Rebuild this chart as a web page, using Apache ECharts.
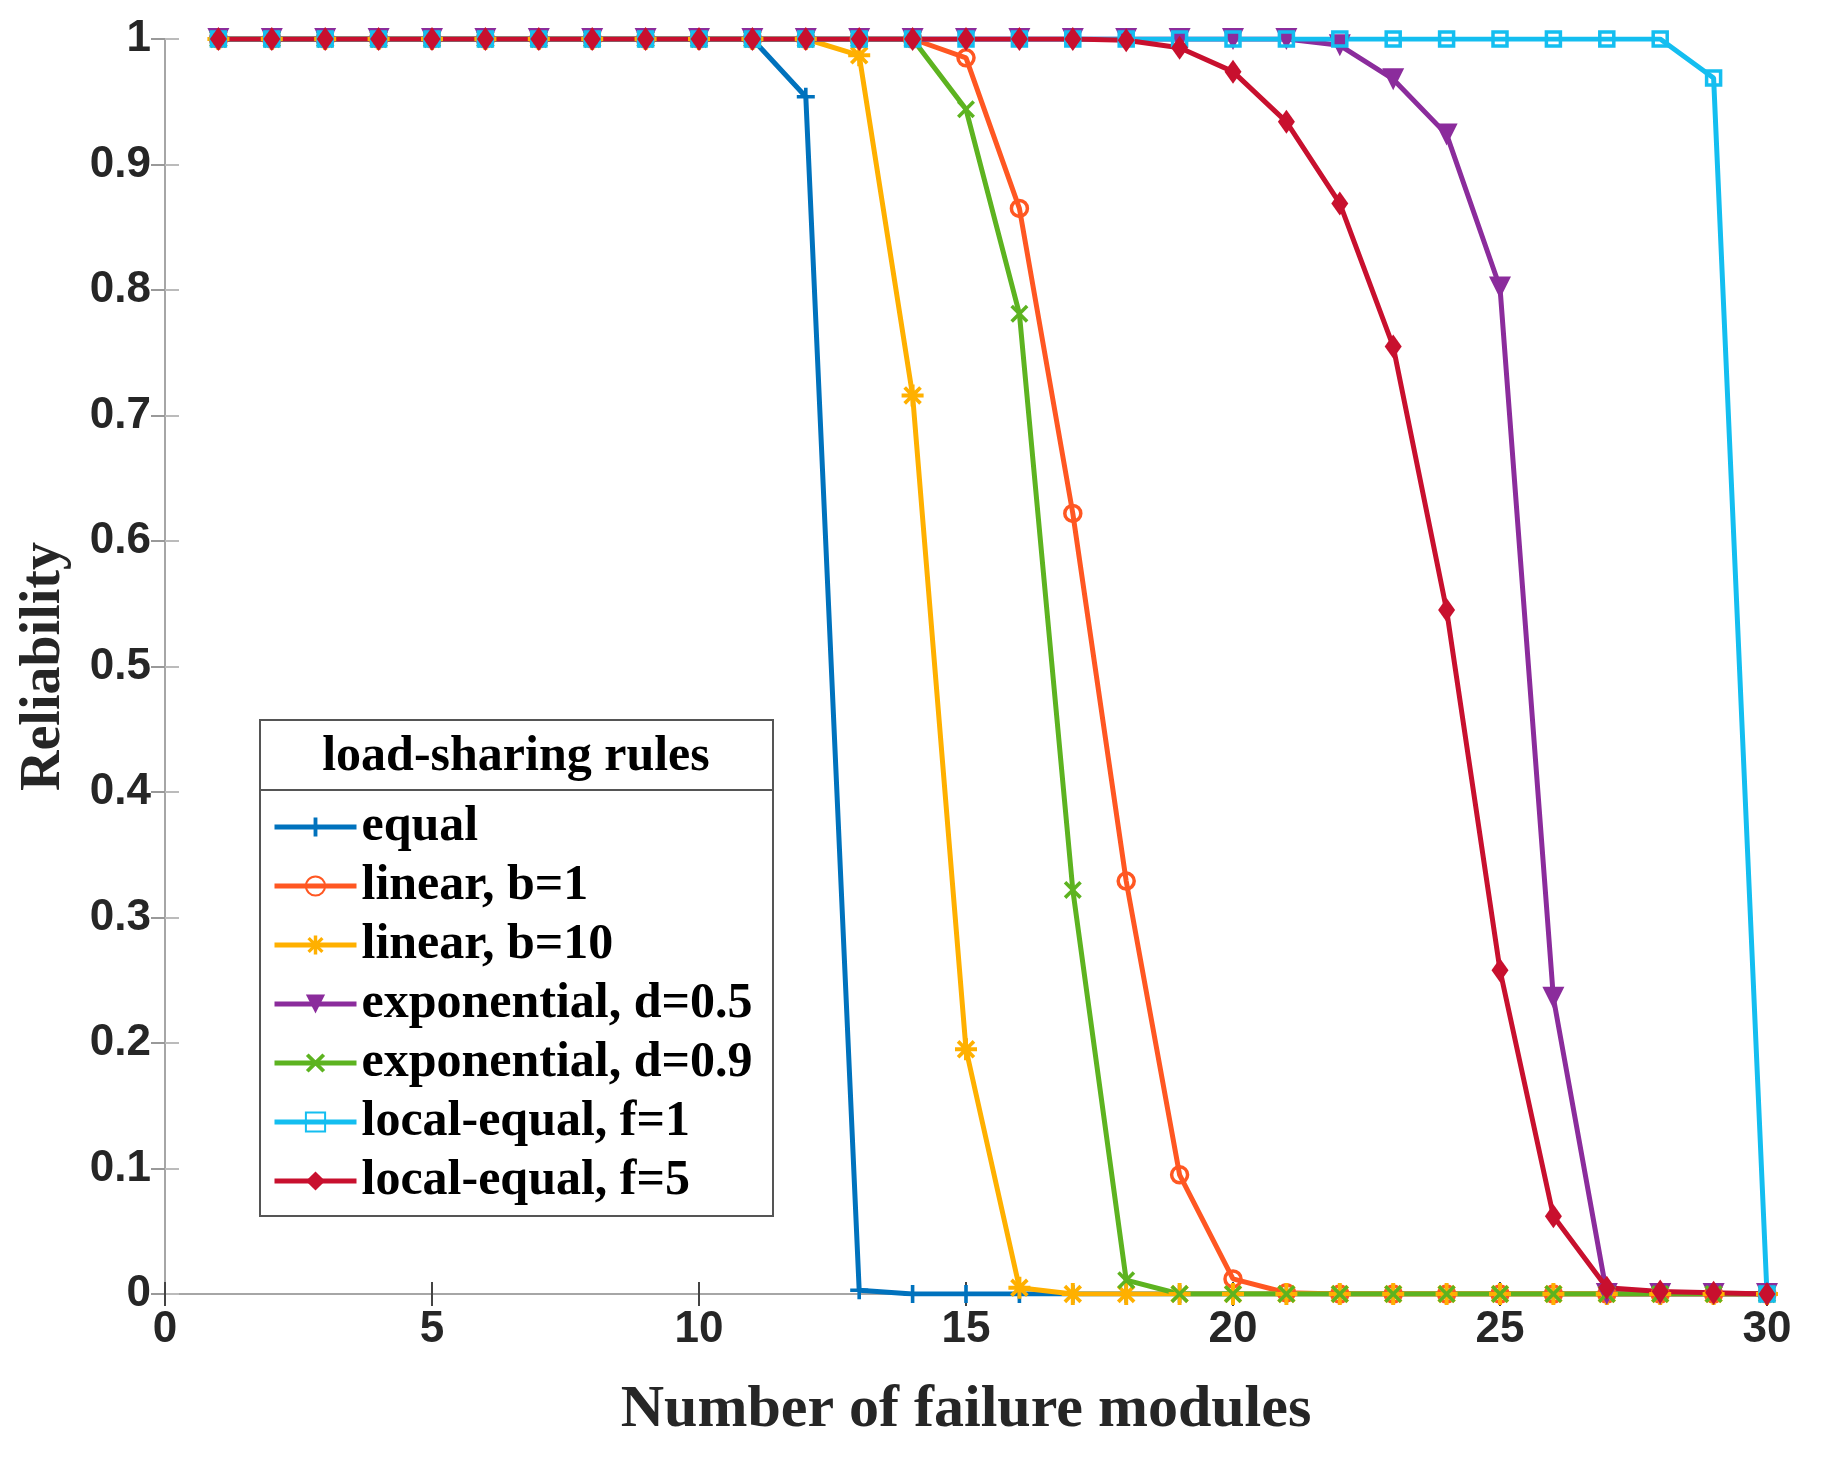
<!DOCTYPE html>
<html>
<head>
<meta charset="utf-8">
<script src="https://cdn.jsdelivr.net/npm/echarts@6/dist/echarts.min.js"></script>
<style>
  html, body { margin: 0; padding: 0; background: #fff; }
  #main { width: 1822px; height: 1473px; }
</style>
</head>
<body>
<div id="main"></div>
<script>
// number of failed modules on the x axis
var modules = [1,2,3,4,5,6,7,8,9,10,11,12,13,14,15,16,17,18,19,20,21,22,23,24,25,26,27,28,29,30];

// reliability per load-sharing rule
var equal      = [1,1,1,1,1,1,1,1,1,1,1,0.954,0.003,0,0,0,0,0,0,0,0,0,0,0,0,0,0,0,0,0];
var linearB1   = [1,1,1,1,1,1,1,1,1,1,1,1,1,1,0.985,0.865,0.622,0.329,0.095,0.012,0.001,0,0,0,0,0,0,0,0,0];
var linearB10  = [1,1,1,1,1,1,1,1,1,1,1,1,0.987,0.716,0.195,0.005,0,0,0,0,0,0,0,0,0,0,0,0,0,0];
var expD05     = [1,1,1,1,1,1,1,1,1,1,1,1,1,1,1,1,1,1,1,1,1,0.995,0.968,0.924,0.802,0.236,0,0,0,0];
var expD09     = [1,1,1,1,1,1,1,1,1,1,1,1,1,1,0.944,0.781,0.322,0.011,0,0,0,0,0,0,0,0,0,0,0,0];
var localF1    = [1,1,1,1,1,1,1,1,1,1,1,1,1,1,1,1,1,1,1,1,1,1,1,1,1,1,1,1,0.969,0];
var localF5    = [1,1,1,1,1,1,1,1,1,1,1,1,1,1,1,1,1,0.999,0.993,0.974,0.934,0.869,0.755,0.545,0.258,0.062,0.005,0.002,0.001,0];

var seriesNames = ['equal', 'linear, b=1', 'linear, b=10', 'exponential, d=0.5',
                   'exponential, d=0.9', 'local-equal, f=1', 'local-equal, f=5'];
var seriesValues = [equal, linearB1, linearB10, expD05, expD09, localF1, localF5];

var xTicks = [0, 5, 10, 15, 20, 25, 30];
var yTicks = [0, 0.1, 0.2, 0.3, 0.4, 0.5, 0.6, 0.7, 0.8, 0.9, 1];

// marker shapes in the MATLAB style
var plusPath = 'path://M4,0H6V4H10V6H6V10H4V6H0V4H4Z';
var crossPath = 'path://M0,1.4L1.4,0L5,3.6L8.6,0L10,1.4L6.4,5L10,8.6L8.6,10L5,6.4L1.4,10L0,8.6L3.6,5Z';
var starPath = 'path://M4.1,0H5.9V2.9L8,0.8L9.2,2L7.1,4.1H10V5.9H7.1L9.2,8L8,9.2L5.9,7.1V10H4.1V7.1L2,9.2L0.8,8L2.9,5.9H0V4.1H2.9L0.8,2L2,0.8L4.1,2.9Z';

var styles = [
  { color: '#0072BD', symbol: plusPath,   size: 18, hollow: false },
  { color: '#FF5722', symbol: 'circle',   size: 16, hollow: true  },
  { color: '#FFB000', symbol: starPath,   size: 22, hollow: false },
  { color: '#8B2C9C', symbol: 'triangle', size: 22, hollow: false, rotate: 180 },
  { color: '#5DB320', symbol: crossPath,  size: 18, hollow: false },
  { color: '#14BEF0', symbol: 'rect',     size: 14, hollow: true  },
  { color: '#C8102E', symbol: 'diamond',  size: [17, 24], hollow: false }
];

var series = seriesNames.map(function (name, k) {
  var s = styles[k];
  return {
    name: name,
    type: 'line',
    data: modules.map(function (m, i) { return [m, seriesValues[k][i]]; }),
    symbol: s.symbol,
    symbolSize: s.size,
    symbolRotate: s.rotate || 0,
    showSymbol: true,
    lineStyle: { color: s.color, width: 5 },
    itemStyle: s.hollow
      ? { color: 'rgba(255,255,255,0)', borderColor: s.color, borderWidth: 3.5 }
      : { color: s.color, borderWidth: 0 },
    emphasis: { disabled: true },
    animation: false
  };
});

var axisGray = '#a6a6a6';
var tickFont = { fontFamily: 'Liberation Sans', fontWeight: 'bold', fontSize: 44, color: '#262626' };
var serifBold = 'Liberation Serif';

var myChart = echarts.init(document.getElementById('main'));
var option = {
  backgroundColor: '#fff',
  animation: false,
  grid: { left: 165, right: 55, top: 39, bottom: 179, containLabel: false },
  legend: {
    data: seriesNames,
    orient: 'vertical',
    left: 272,
    top: 802,
    z: 10,
    padding: 0,
    itemWidth: 82,
    itemHeight: 24,
    itemGap: 9,
    lineStyle: { width: 5 },
    textStyle: { fontFamily: serifBold, fontWeight: 'bold', fontSize: 50, lineHeight: 50, color: '#000' }
  },
  graphic: [
    { type: 'rect', z: 3, silent: true,
      shape: { x: 260, y: 720, width: 513, height: 496 },
      style: { fill: '#fff', stroke: '#555', lineWidth: 2 } },
    { type: 'line', z: 4, silent: true,
      shape: { x1: 260, y1: 790, x2: 773, y2: 790 },
      style: { stroke: '#555', lineWidth: 2 } },
    { type: 'text', z: 5, silent: true,
      style: { x: 516, y: 757, text: 'load-sharing rules', fontFamily: serifBold, fontWeight: 'bold',
               fontSize: 50, fill: '#000', align: 'center', verticalAlign: 'middle' } }
  ],
  xAxis: [
    {
      type: 'value', min: 0, max: 30, interval: 5,
      name: 'Number of failure modules', nameLocation: 'middle', nameGap: 86,
      nameTextStyle: { fontFamily: serifBold, fontWeight: 'bold', fontSize: 60, color: '#262626' },
      axisLine: { show: true, lineStyle: { color: axisGray, width: 2 } },
      axisTick: { show: true, inside: true, length: 12, lineStyle: { color: '#444', width: 2 } },
      axisLabel: Object.assign({ margin: 14, formatter: function (v) { return xTicks.indexOf(v) >= 0 ? String(v) : ''; } }, tickFont),
      splitLine: { show: false }
    },
    {
      type: 'value', min: 0, max: 30, interval: 5, position: 'top',
      axisLine: { show: true, lineStyle: { color: axisGray, width: 2 } },
      axisTick: { show: true, inside: true, length: 12, lineStyle: { color: '#444', width: 2 } },
      axisLabel: { show: false },
      splitLine: { show: false }
    }
  ],
  yAxis: [
    {
      type: 'value', min: 0, max: 1, interval: 0.1,
      name: 'Reliability', nameLocation: 'middle', nameGap: 92, nameRotate: 90,
      nameTextStyle: { fontFamily: serifBold, fontWeight: 'bold', fontSize: 56, color: '#262626' },
      axisLine: { show: true, lineStyle: { color: axisGray, width: 2 } },
      axisTick: { show: true, inside: true, length: 14, lineStyle: { color: '#bbb', width: 2 } },
      axisLabel: Object.assign({ margin: 14, formatter: function (v) {
        var r = Math.round(v * 10) / 10;
        return yTicks.indexOf(r) >= 0 ? String(r) : '';
      } }, tickFont),
      splitLine: { show: false }
    },
    {
      type: 'value', min: 0, max: 1, interval: 0.1, position: 'right',
      axisLine: { show: true, lineStyle: { color: axisGray, width: 2 } },
      axisTick: { show: true, inside: true, length: 14, lineStyle: { color: '#999', width: 2 } },
      axisLabel: { show: false },
      splitLine: { show: false }
    }
  ],
  series: series
};
myChart.setOption(option);
</script>
</body>
</html>
